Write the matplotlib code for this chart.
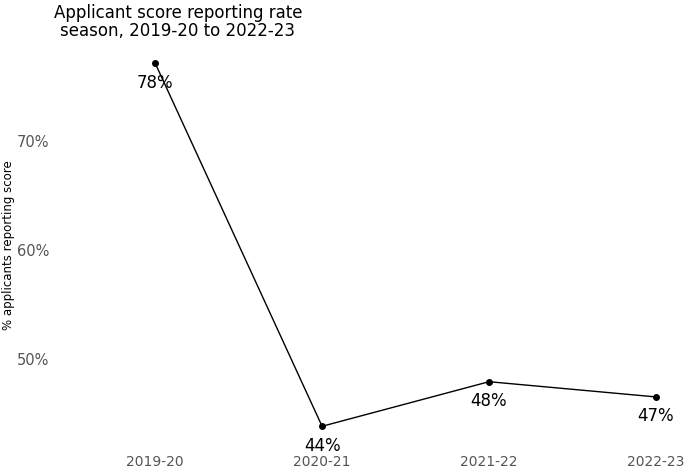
import matplotlib
matplotlib.use('Agg')
import matplotlib.pyplot as plt

seasons = ['2019-20', '2020-21', '2021-22', '2022-23']
rates = [77.2, 43.8, 47.9, 46.5]
rate_labels = ['78%', '44%', '48%', '47%']
y_ticks = [50, 60, 70]

fig = plt.figure(figsize=(6.92, 4.70), dpi=100)
ax = fig.add_axes([55 / 692, 1 - 444 / 470, 626 / 692, 399 / 470])

x = list(range(len(seasons)))
ax.plot(x, rates, color='black', linewidth=1, marker='o', markersize=4)

for xi, yi, lab in zip(x, rates, rate_labels):
    ax.annotate(lab, (xi, yi), xytext=(0, -14), textcoords='offset points',
                ha='center', va='center', fontsize=12, color='black')

ax.set_xlim(-0.6, 3.15)
ax.set_ylim(42.17, 78.87)
ax.set_xticks(x)
ax.set_xticklabels(seasons)
ax.set_yticks(y_ticks)
ax.set_yticklabels([f'{t}%' for t in y_ticks])
ax.tick_params(length=0, labelsize=10, colors='#555555')
ax.tick_params(axis='y', pad=4, labelsize=10.5)
ax.tick_params(axis='x', pad=8)
for s in ax.spines.values():
    s.set_visible(False)

fig.text(9 / 692, 1 - 245 / 470, '% applicants reporting score', rotation=90,
         ha='center', va='center', fontsize=8.5)

fig.text(178 / 692, 1 - 4 / 470, 'Applicant score reporting rate\nseason, 2019-20 to 2022-23',
         ha='center', va='top', fontsize=12, linespacing=1.0)

fig.savefig('out.png', dpi=100)
